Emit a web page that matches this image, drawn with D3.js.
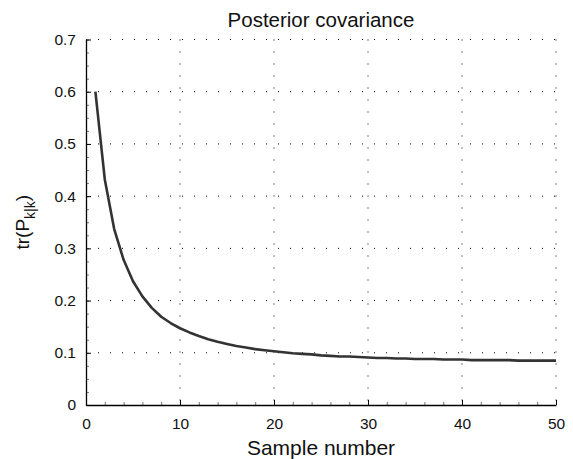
<!DOCTYPE html>
<html>
<head>
<meta charset="utf-8">
<script src="https://cdn.jsdelivr.net/npm/d3@7"></script>
<style>
  body { margin: 0; background: #fff; }
  svg { display: block; font-family: "Liberation Sans", Arial, sans-serif; }
</style>
</head>
<body>
<svg id="chart" width="573" height="459"></svg>
<script>
// sample index and trace of posterior covariance
const samples = d3.range(1, 51);
const traceP = [
  0.600, 0.432, 0.337, 0.278, 0.237, 0.208, 0.186, 0.169, 0.157, 0.147,
  0.139, 0.132, 0.126, 0.121, 0.117, 0.113, 0.110, 0.107, 0.105, 0.103,
  0.101, 0.099, 0.098, 0.097, 0.095, 0.094, 0.093, 0.093, 0.092, 0.091,
  0.090, 0.090, 0.089, 0.089, 0.088, 0.088, 0.088, 0.087, 0.087, 0.087,
  0.086, 0.086, 0.086, 0.086, 0.086, 0.085, 0.085, 0.085, 0.085, 0.085
];
const xTicks = [0, 10, 20, 30, 40, 50];
const yTicks = [0, 0.1, 0.2, 0.3, 0.4, 0.5, 0.6, 0.7];

const svg = d3.select("#chart"),
    margin = { top: 39.5, right: 17, bottom: 54, left: 86 },
    width = 573 - margin.left - margin.right,
    height = 459 - margin.top - margin.bottom,
    g = svg.append("g").attr("transform", "translate(" + margin.left + "," + margin.top + ")");

const x = d3.scaleLinear().domain([0, 50]).range([0, width]);
const y = d3.scaleLinear().domain([0, 0.7]).range([height, 0]);

// dotted grid
g.append("g")
    .selectAll("line")
    .data(xTicks.slice(1))
    .join("line")
    .attr("x1", d => x(d)).attr("x2", d => x(d))
    .attr("y1", 0).attr("y2", height)
    .attr("stroke", "#000").attr("stroke-width", 1)
    .attr("stroke-dasharray", "1,11");
g.append("g")
    .selectAll("line")
    .data(yTicks.slice(1))
    .join("line")
    .attr("x1", 0).attr("x2", width)
    .attr("y1", d => y(d)).attr("y2", d => y(d))
    .attr("stroke", "#000").attr("stroke-width", 1)
    .attr("stroke-dasharray", "1,11");

// minor ticks
g.append("g")
    .call(d3.axisBottom(x).ticks(25).tickSize(-3).tickFormat(""))
    .attr("transform", "translate(0," + height + ")")
    .call(a => a.select(".domain").remove())
    .selectAll("line").attr("stroke", "#777");
g.append("g")
    .call(d3.axisLeft(y).tickValues(d3.range(0, 0.7001, 0.025)).tickSize(-3).tickFormat(""))
    .call(a => a.select(".domain").remove())
    .selectAll("line").attr("stroke", "#777");

// main axes, ticks pointing inward
const xAxis = g.append("g")
    .attr("transform", "translate(0," + height + ")")
    .call(d3.axisBottom(x).tickValues(xTicks).tickSize(-5).tickSizeOuter(0).tickPadding(13));
const yAxis = g.append("g")
    .call(d3.axisLeft(y).tickValues(yTicks).tickSize(-5).tickSizeOuter(0).tickPadding(10)
        .tickFormat(d => d === 0 ? "0" : d3.format(".1f")(d)));

[xAxis, yAxis].forEach(a => {
    a.select(".domain").attr("stroke", "#000").attr("stroke-width", 1.3);
    a.selectAll(".tick line").attr("stroke", "#000");
    a.selectAll("text").attr("font-size", 15.5).attr("fill", "#111")
        .attr("font-family", "Liberation Sans, Arial, sans-serif");
});

// curve
const line = d3.line()
    .x((d, i) => x(samples[i]))
    .y(d => y(d));
g.append("path")
    .datum(traceP)
    .attr("d", line)
    .attr("fill", "none")
    .attr("stroke", "#333")
    .attr("stroke-width", 2.6)
    .attr("stroke-linejoin", "round");

// title
svg.append("text")
    .attr("x", margin.left + width / 2)
    .attr("y", 27)
    .attr("text-anchor", "middle")
    .attr("font-size", 20.5)
    .attr("fill", "#111")
    .text("Posterior covariance");

// x label
svg.append("text")
    .attr("x", margin.left + width / 2)
    .attr("y", 455)
    .attr("text-anchor", "middle")
    .attr("font-size", 21)
    .attr("fill", "#111")
    .text("Sample number");

// y label with subscript
const yl = svg.append("text")
    .attr("transform", "translate(29," + (margin.top + height / 2) + ") rotate(-90)")
    .attr("text-anchor", "middle")
    .attr("font-size", 19)
    .attr("fill", "#111");
yl.append("tspan").text("tr(P");
yl.append("tspan").attr("font-size", 14).attr("dy", 6).text("k|k");
yl.append("tspan").attr("dy", -6).text(")");
</script>
</body>
</html>
